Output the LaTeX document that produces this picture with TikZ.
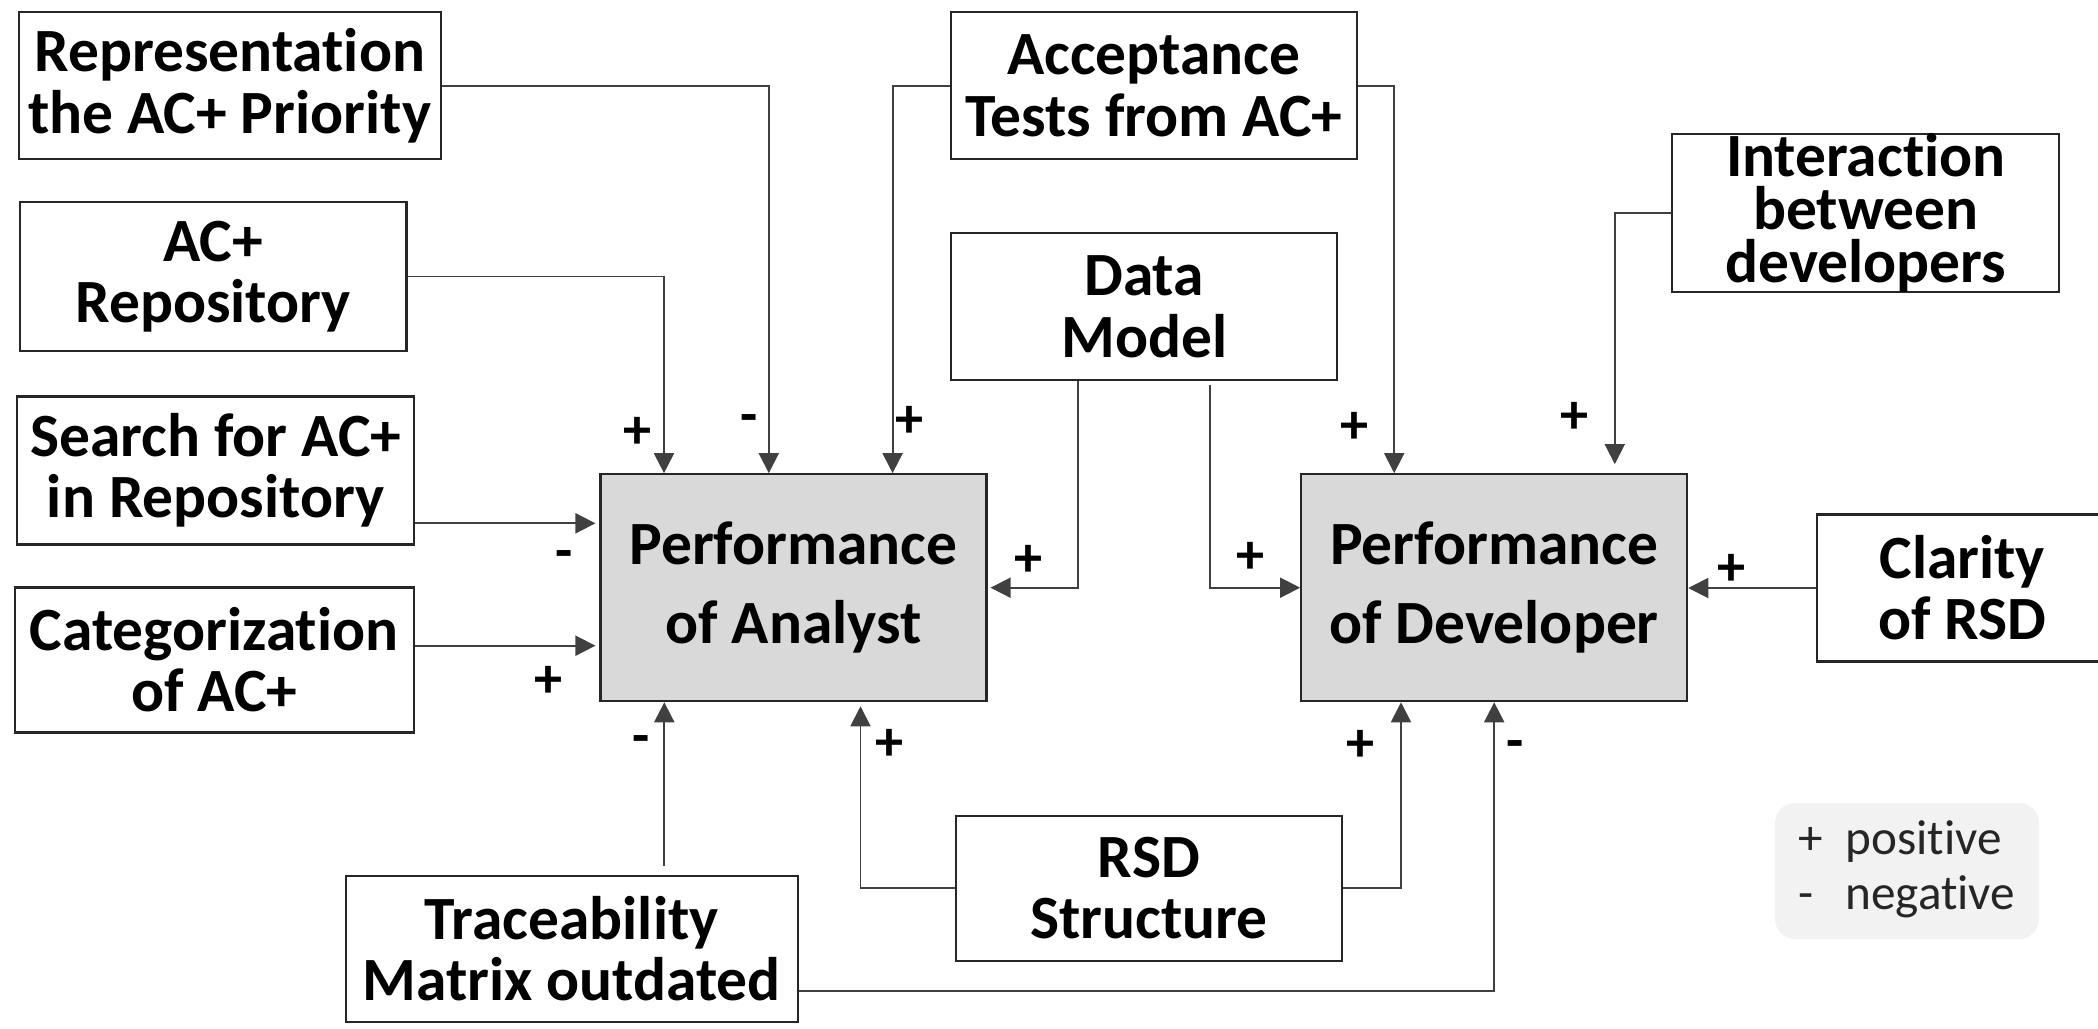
\documentclass[tikz,border=0pt]{standalone}
\usepackage{fontspec}
\setmainfont[RawFeature=-liga, RawFeature=-clig, RawFeature=-calt, RawFeature=-dlig]{Carlito}
\usetikzlibrary{arrows.meta}

\tikzset{
  factor/.style={draw=black!85, line width=0.6pt, fill=white, inner sep=0pt,
    align=center, minimum width=38.6mm, minimum height=14.7mm,
    font=\bfseries\fontsize{17.5}{17.4}\selectfont},
  perf/.style={factor, fill=gray!30, minimum height=22.7mm,
    font=\bfseries\fontsize{17.5}{22.5}\selectfont},
  flow/.style={draw=black!75, line width=0.55pt,
    -{Triangle[length=2mm,width=2mm]}},
  sign/.style={inner sep=0pt, font=\bfseries\fontsize{16}{16}\selectfont},
}

\begin{document}
\begin{tikzpicture}[x=0.1mm, y=-0.1mm]
    \useasboundingbox (0,0) rectangle (2098,1029);

    % the two performance boxes
    \node[perf] (analyst) at (793.5,587.7) {Performance\\of Analyst};
    \node[perf] (dev)     at (1494.2,587.7) {Performance\\of Developer};

    % factors on the left
    \node[factor, minimum width=42.2mm] (rep) at (229.7,85.7)
      {Representation\\the AC+ Priority};
    \node[factor, minimum width=38.65mm, minimum height=14.9mm] (acrep) at (213.2,276.5)
      {AC+\\Repository};
    \node[factor, minimum width=39.7mm, minimum height=14.8mm] (search) at (215.7,470.5)
      {Search for AC+\\in Repository};
    \node[factor, minimum width=39.9mm, minimum height=14.5mm] (categ) at (214.2,660)
      {Categorization\\of AC+};
    \node[factor, minimum width=45.2mm, minimum height=14.6mm] (trace) at (571.6,948.9)
      {Traceability\\Matrix outdated};

    % factors in the middle
    \node[factor, minimum width=40.6mm] (accept) at (1153.9,85.7)
      {Acceptance\\Tests from AC+};
    \node[factor] (datamodel) at (1144.2,306.7) {Data\\Model};
    \node[factor, minimum height=14.5mm] (rsd) at (1148.9,888.3) {RSD\\Structure};

    % factors on the right
    \node[factor, minimum width=38.7mm, minimum height=14.9mm,
      font=\bfseries\fontsize{17.5}{15}\selectfont] (interact) at (1865.8,212.8)
      {Interaction\\between\\developers};
    \node[factor, minimum width=29.1mm] (clarity) at (1962.3,588) {Clarity\\of RSD};

    % helper points for the offset connectors
    \coordinate (searchout) at ([yshift=-5.28mm]search.east);
    \coordinate (categout)  at ([yshift=1.43mm]categ.east);
    \coordinate (dmleft)    at ([xshift=-6.62mm]datamodel.south);
    \coordinate (dmright)   at ([xshift=6.62mm]datamodel.south);
    \coordinate (trup)      at ([xshift=9.27mm]trace.north);
    \coordinate (trout)     at ([yshift=-4.21mm]trace.east);

    % into the analyst
    \draw[flow] (rep.east) -| ([xshift=-2.47mm]analyst.north);
    \draw[flow] (acrep.east) -| ([xshift=-12.95mm]analyst.north);
    \draw[flow] (accept.west) -| ([xshift=9.91mm]analyst.north);
    \draw[flow, shorten >=0.4mm] (searchout) -- (searchout -| analyst.west);
    \draw[flow, shorten >=0.4mm] (categout) -- (categout -| analyst.west);
    \draw[flow, shorten >=0.3mm] (dmleft) |- (analyst.east);
    \draw[flow, shorten <=0.9mm] (trup) -- (trup |- analyst.south);
    \draw[flow, shorten >=0.4mm] (rsd.west) -| ([xshift=6.7mm]analyst.south);

    % into the developer
    \draw[flow] (accept.east) -| ([xshift=-10mm]dev.north);
    \draw[flow, shorten >=0.9mm] (interact.west) -| ([xshift=12.06mm]dev.north);
    \draw[flow, shorten <=0.4mm] (dmright) |- (dev.west);
    \draw[flow] (clarity.west) -- (clarity.west -| dev.east);
    \draw[flow] (rsd.east) -| ([xshift=-9.32mm]dev.south);
    \draw[flow] (trout) -| (dev.south);

    % signs
    \node[sign] (s1)  at (749,424)    {-};
    \node[sign] (s2)  at (637.5,433)  {+};
    \node[sign] (s3)  at (909,421.7)  {+};
    \node[sign] (s4)  at (564,560)    {-};
    \node[sign] (s5)  at (549,681.7)  {+};
    \node[sign] (s6)  at (1028,561)   {+};
    \node[sign] (s7)  at (641.6,745)  {-};
    \node[sign] (s8)  at (889.3,745)  {+};
    \node[sign] (s9)  at (1354,428)   {+};
    \node[sign] (s10) at (1574.7,418) {+};
    \node[sign] (s11) at (1250.5,558) {+};
    \node[sign] (s12) at (1731.8,570) {+};
    \node[sign] (s13) at (1360.8,746) {+};
    \node[sign] (s14) at (1514.6,750) {-};

    % legend
    \node[fill=black!5, rounded corners=2mm, inner sep=0pt,
      minimum width=26.4mm, minimum height=13.6mm, text=black!85,
      font=\fontsize{14}{15.6}\selectfont] (legend) at (1907,871)
      {\begin{tabular}{@{}l@{\hspace{2.2mm}}l@{}}
        + & positive\\
        - & negative
      \end{tabular}};
\end{tikzpicture}
\end{document}
